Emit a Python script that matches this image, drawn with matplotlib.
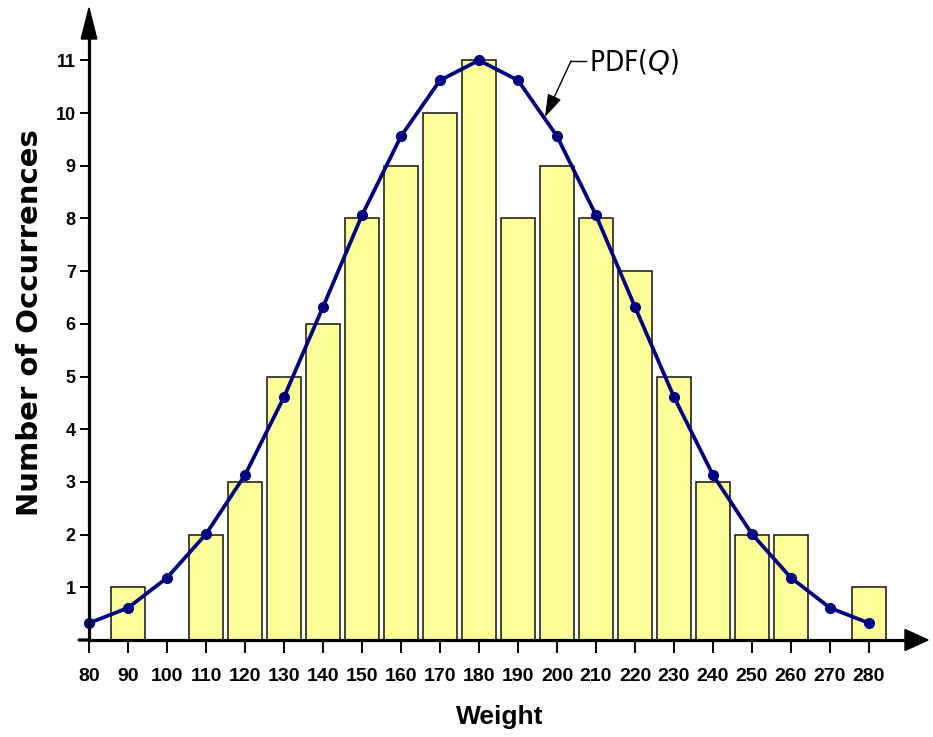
import matplotlib
matplotlib.use("Agg")
import matplotlib.pyplot as plt
from matplotlib import font_manager as fm
from matplotlib.patches import Polygon

# ---- data ----
bin_centers = [90, 100, 110, 120, 130, 140, 150, 160, 170, 180, 190,
               200, 210, 220, 230, 240, 250, 260, 270, 280]
counts = [1, 0, 2, 3, 5, 6, 8, 9, 10, 11, 8, 9, 8, 7, 5, 3, 2, 2, 0, 1]
pdf_x = [80, 90, 100, 110, 120, 130, 140, 150, 160, 170, 180,
         190, 200, 210, 220, 230, 240, 250, 260, 270, 280]
pdf_y = [0.32, 0.61, 1.18, 2.01, 3.13, 4.61, 6.32, 8.06, 9.56, 10.62, 11.0,
         10.62, 9.56, 8.06, 6.32, 4.61, 3.13, 2.01, 1.18, 0.61, 0.32]
x_ticks = list(range(80, 281, 10))
y_ticks = list(range(1, 12))

# look for a condensed regular font for the annotation
cond_reg = None
for f in fm.fontManager.ttflist:
    key = (f.name + ' ' + str(f.stretch) + ' ' + f.fname).lower()
    if ('narrow' in key or 'condensed' in key) and f.style == 'normal' \
            and 'bold' not in f.fname.lower() and str(f.weight) in ('normal', '400', 'regular', 'book'):
        cond_reg = f.fname
        break
if cond_reg:
    pdf_fp = fm.FontProperties(fname=cond_reg, size=20)
else:
    pdf_fp = fm.FontProperties(family='Liberation Sans', size=18)

tick_fp_x = fm.FontProperties(family='Liberation Sans', weight='bold', size=14)
tick_fp_y = fm.FontProperties(family='Liberation Sans', weight='bold', size=13)

fig = plt.figure(figsize=(9.33, 7.37), dpi=100)
W, H = 933, 737
x0_px, y0_px = 89, 640
right_px, top_px = 928, 8
ax = fig.add_axes([x0_px / W, (H - y0_px) / H, (right_px - x0_px) / W, (y0_px - top_px) / H])

px_per_x = 3.9
px_per_y = 52.7
ax.set_xlim(80, 80 + (right_px - x0_px) / px_per_x)
ax.set_ylim(0, (y0_px - top_px) / px_per_y)

ax.bar(bin_centers, counts, width=8.6, color='#FFFF99', edgecolor='#111111',
       linewidth=1.1, zorder=2)
ax.plot(pdf_x, pdf_y, color='#000080', linewidth=2.7, marker='o',
        markersize=7, zorder=4, clip_on=False)

for s in ['top', 'right']:
    ax.spines[s].set_visible(False)
for s in ['left', 'bottom']:
    ax.spines[s].set_linewidth(2.3)
    ax.spines[s].set_zorder(5)
ax.spines['left'].set_bounds(0, (y0_px - 39) / px_per_y)
ax.spines['bottom'].set_bounds(80, 80 + (905 - x0_px) / px_per_x)

ax.set_xticks(x_ticks)
ax.set_xticklabels([str(v) for v in x_ticks])
ax.set_yticks(y_ticks)
ax.set_yticklabels([str(v) for v in y_ticks])
ax.tick_params(axis='x', direction='out', length=9.5, width=1.4, pad=11)
ax.tick_params(axis='y', direction='out', length=6.5, width=1.4, pad=3)
for lab in ax.get_xticklabels():
    lab.set_fontproperties(tick_fp_x)
for lab in ax.get_yticklabels():
    lab.set_fontproperties(tick_fp_y)

# y=0 tick stub to the left
ax.annotate('', xy=(-10 / (right_px - x0_px), 0), xytext=(0, 0),
            xycoords='axes fraction', textcoords='axes fraction',
            arrowprops=dict(arrowstyle='-', lw=2.3, color='black',
                            shrinkA=0, shrinkB=0))

# arrowheads
aw = right_px - x0_px
ah = y0_px - top_px
yarrow = Polygon([(0, 1), (-7.8 / aw, (ah - 31) / ah), (7.8 / aw, (ah - 31) / ah)],
                 closed=True, transform=ax.transAxes, clip_on=False,
                 color='black', zorder=6)
xarrow = Polygon([(1, 0), ((aw - 23) / aw, 10.5 / ah), ((aw - 23) / aw, -10.5 / ah)],
                 closed=True, transform=ax.transAxes, clip_on=False,
                 color='black', zorder=6)
ax.add_patch(yarrow)
ax.add_patch(xarrow)

# labels
fig.text(500 / W, (H - 717) / H, 'Weight', ha='center', va='center',
         fontsize=19, fontweight='bold', family='Liberation Sans')
fig.text(30 / W, (H - 323) / H, 'Number of Occurrences', ha='center',
         va='center', rotation=90, fontsize=21, fontweight='bold',
         family='DejaVu Sans')

# PDF annotation
corner = (80 + (571 - x0_px) / px_per_x, (y0_px - 61) / px_per_y)
end = (80 + (586 - x0_px) / px_per_x, (y0_px - 61) / px_per_y)
tip = (80 + (545 - x0_px) / px_per_x, (y0_px - 117) / px_per_y)
ax.plot([corner[0], end[0]], [corner[1], end[1]], color='black', lw=1.0,
        zorder=6)
ax.annotate('', xy=tip, xytext=corner,
            arrowprops=dict(arrowstyle='-|>,head_length=1.4,head_width=0.45',
                            lw=1.0, color='black', shrinkA=0, shrinkB=0),
            zorder=6)
ax.text(80 + (589 - x0_px) / px_per_x, (y0_px - 62) / px_per_y,
        r'PDF($\mathit{Q}$)', ha='left', va='center', fontproperties=pdf_fp,
        zorder=6)

fig.savefig('out.png', dpi=100)
